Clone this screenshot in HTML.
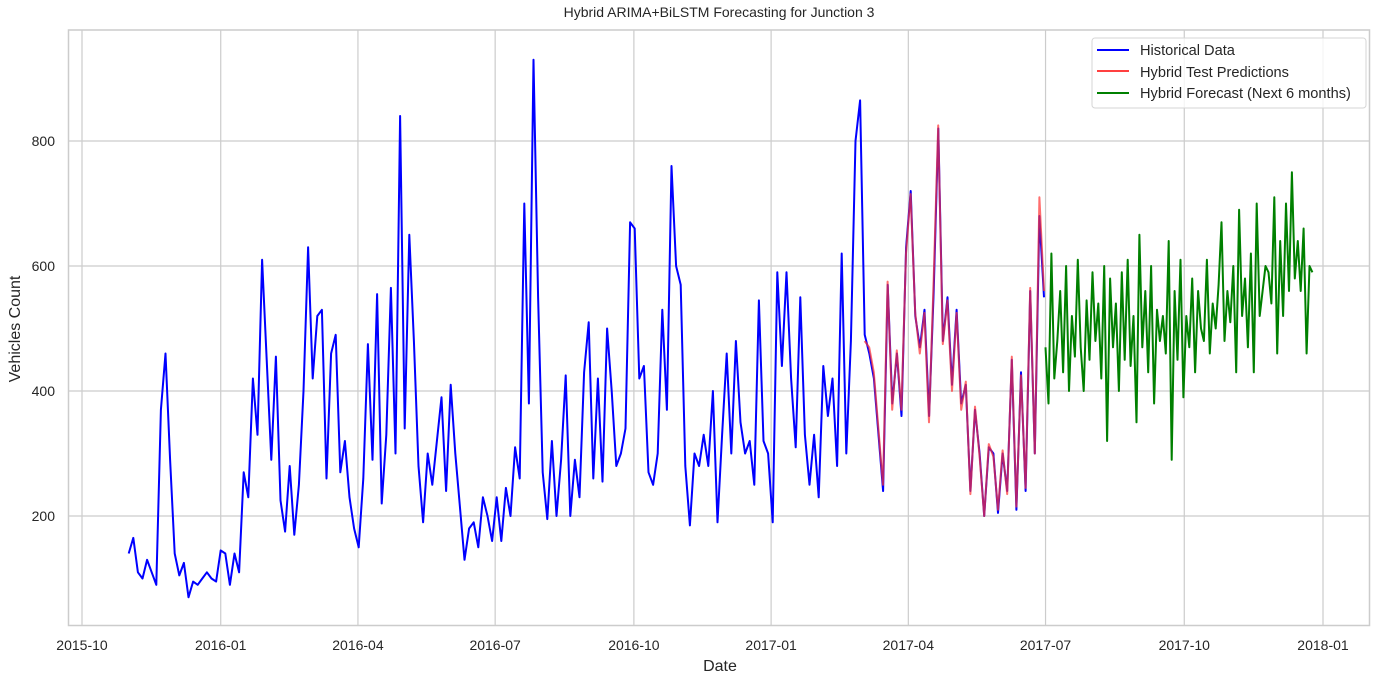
<!DOCTYPE html>
<html><head><meta charset="utf-8"><style>
body{margin:0;background:#fff;}
svg text{font-family:"Liberation Sans",Arial,sans-serif;fill:#262626;}
</style></head><body>
<svg id="chart" width="1384" height="684" xmlns="http://www.w3.org/2000/svg">
<rect width="1384" height="684" fill="#fff"/>
<g id="grid"></g>
<g id="series"></g>
<rect x="68.5" y="30" width="1301" height="595.5" fill="none" stroke="#cccccc" stroke-width="1.5"/>
<g id="ticks"></g>
<text x="719" y="17" font-size="14" text-anchor="middle">Hybrid ARIMA+BiLSTM Forecasting for Junction 3</text>
<text x="720" y="671" font-size="16" text-anchor="middle">Date</text>
<text x="20" y="329" font-size="16" text-anchor="middle" transform="rotate(-90 20 329)">Vehicles Count</text>
<g>
<rect x="1092" y="38" width="274" height="70" rx="3" fill="#fff" fill-opacity="0.8" stroke="#d6d6d6"/>
<line x1="1097" y1="50" x2="1129" y2="50" stroke="#0000ff" stroke-width="2"/>
<text x="1140" y="55" font-size="14.6">Historical Data</text>
<line x1="1097" y1="71" x2="1129" y2="71" stroke="#ff4040" stroke-width="2"/>
<text x="1140" y="77" font-size="14.6">Hybrid Test Predictions</text>
<line x1="1097" y1="93" x2="1129" y2="93" stroke="#008000" stroke-width="2"/>
<text x="1140" y="98" font-size="14.6">Hybrid Forecast (Next 6 months)</text>
</g>
</svg>
<script>
// day offsets from 2015-10-01
const histStartDay = 31, histEndDay = 638;
const predStartDay = 519, predEndDay = 638;
const fcStartDay = 639, fcEndDay = 816;
const xTickDays = [0,92,183,274,366,457,548,639,731,823];
const xTickLabels = ["2015-10","2016-01","2016-04","2016-07","2016-10","2017-01","2017-04","2017-07","2017-10","2018-01"];
const yTicks = [200,400,600,800];
const historical = [
140,165,110,100,130,110,90,370,460,290,
140,105,125,70,95,90,100,110,100,95,
145,140,90,140,110,270,230,420,330,610,
450,290,455,225,175,280,170,250,400,630,
420,520,530,260,460,490,270,320,230,180,
150,260,475,290,555,220,330,565,300,840,
340,650,480,280,190,300,250,320,390,240,
410,300,215,130,180,190,150,230,200,160,
230,160,245,200,310,260,700,380,930,550,
270,195,320,200,290,425,200,290,230,430,
510,260,420,255,500,400,280,300,340,670,
660,420,440,270,250,300,530,370,760,600,
570,280,185,300,280,330,280,400,190,330,
460,300,480,350,300,320,250,545,320,300,
190,590,440,590,420,310,550,330,250,330,
230,440,360,420,280,620,300,480,800,865,
490,460,420,330,240,570,380,460,360,630,
720,520,470,530,360,560,820,480,550,410,
530,380,410,240,370,300,200,310,300,205,
300,240,450,210,430,240,560,300,680,550];
const predictions = [
480,470,430,340,250,575,370,465,370,620,
715,525,460,525,350,575,825,475,545,400,
525,370,415,235,375,295,200,315,295,210,
305,235,455,215,425,245,565,300,710,560];
const forecast = [
470,380,620,420,480,560,430,600,400,520,
455,610,470,400,545,450,590,480,540,420,
600,320,580,470,540,400,590,450,610,440,
520,350,650,470,560,430,600,380,530,480,
520,460,640,290,560,450,610,390,520,470,
580,430,560,500,480,610,460,540,500,570,
670,480,560,510,600,430,690,520,580,470,
620,430,700,520,560,600,590,540,710,460,
640,520,700,560,750,580,640,560,660,460,600,590];

const NS="http://www.w3.org/2000/svg";
const X0=82, X1=1323, DMAX=823;
function xScale(d){return X0+d*(X1-X0)/DMAX;}
function yScale(v){return 516-(v-200)*0.625;}
const grid=document.getElementById('grid'), ticks=document.getElementById('ticks'), series=document.getElementById('series');
xTickDays.forEach((d,i)=>{
  const x=xScale(d);
  const l=document.createElementNS(NS,'line');
  
  
  l.setAttribute('x1',x);l.setAttribute('x2',x);l.setAttribute('y1',30);l.setAttribute('y2',625);
  l.setAttribute('stroke','#cccccc');l.setAttribute('stroke-width','1.2');
  grid.appendChild(l);
  const t=document.createElementNS(NS,'text');
  
  
  t.setAttribute('x',x);t.setAttribute('y',650);t.setAttribute('font-size','14');t.setAttribute('text-anchor','middle');
  t.textContent=xTickLabels[i];ticks.appendChild(t);
});
yTicks.forEach(v=>{
  const y=yScale(v);
  const l=document.createElementNS(NS,'line');
  
  
  l.setAttribute('x1',68);l.setAttribute('x2',1370);l.setAttribute('y1',y);l.setAttribute('y2',y);
  l.setAttribute('stroke','#cccccc');l.setAttribute('stroke-width','1.2');
  grid.appendChild(l);
  const t=document.createElementNS(NS,'text');
  
  
  t.setAttribute('x',55);t.setAttribute('y',y+5);t.setAttribute('font-size','14');t.setAttribute('text-anchor','end');
  t.textContent=v;ticks.appendChild(t);
});
function draw(vals,d0,d1,color,op,name){
  const n=vals.length;
  const pts=vals.map((v,i)=>xScale(d0+i*(d1-d0)/(n-1)).toFixed(1)+','+yScale(v).toFixed(1)).join(' ');
  const p=document.createElementNS(NS,'polyline');
  
  
  p.setAttribute('points',pts);p.setAttribute('fill','none');p.setAttribute('stroke',color);
  p.setAttribute('stroke-width','2');p.setAttribute('stroke-opacity',op);p.setAttribute('stroke-linejoin','round');
  series.appendChild(p);
}
draw(historical,histStartDay,histEndDay,'#0000ff',1,'historical-line');
draw(predictions,predStartDay,predEndDay,'#ff3030',0.7,'test-predictions-line');
draw(forecast,fcStartDay,fcEndDay,'#008000',1,'forecast-line');
</script>
</body></html>
